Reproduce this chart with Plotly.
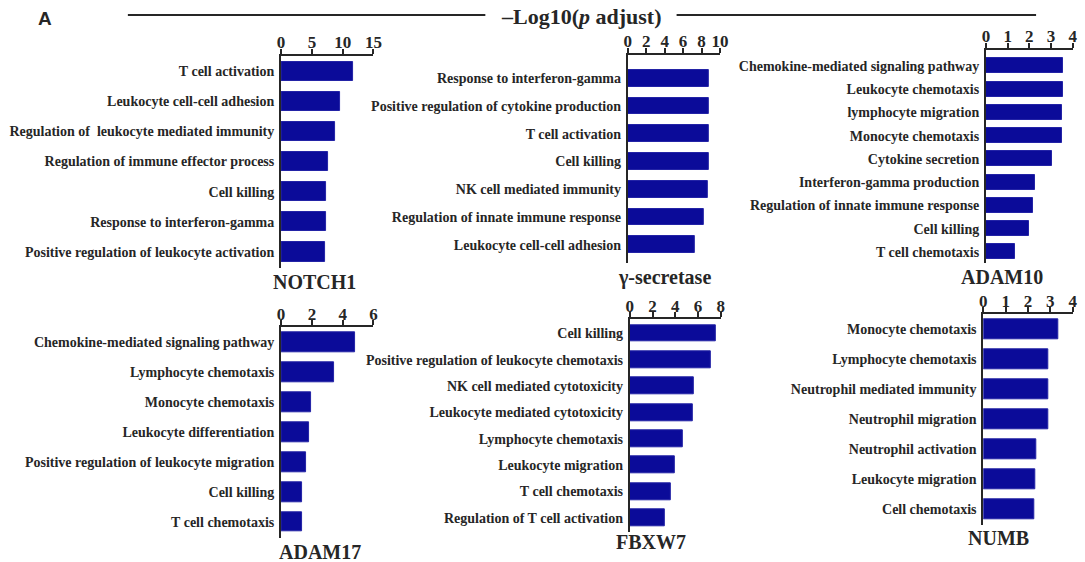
import plotly.graph_objects as go

W, H = 1085, 562

# GO enrichment terms and -log10(adjusted p) per gene
notch1_terms = ["T cell activation", "Leukocyte cell-cell adhesion",
                "Regulation of\u00a0 leukocyte mediated immunity",
                "Regulation of immune effector process", "Cell killing",
                "Response to interferon-gamma",
                "Positive regulation of leukocyte activation"]
notch1_vals = [11.7, 9.6, 8.8, 7.7, 7.3, 7.3, 7.2]

gsec_terms = ["Response to interferon-gamma",
              "Positive regulation of cytokine production",
              "T cell activation", "Cell killing", "NK cell mediated immunity",
              "Regulation of innate immune response",
              "Leukocyte cell-cell adhesion"]
gsec_vals = [8.8, 8.8, 8.75, 8.75, 8.7, 8.3, 7.3]

adam10_terms = ["Chemokine-mediated signaling pathway", "Leukocyte chemotaxis",
                "lymphocyte migration", "Monocyte chemotaxis",
                "Cytokine secretion", "Interferon-gamma production",
                "Regulation of innate immune response", "Cell killing",
                "T cell chemotaxis"]
adam10_vals = [3.57, 3.57, 3.53, 3.53, 3.07, 2.26, 2.17, 1.97, 1.33]

adam17_terms = ["Chemokine-mediated signaling pathway", "Lymphocyte chemotaxis",
                "Monocyte chemotaxis", "Leukocyte differentiation",
                "Positive regulation of leukocyte migration", "Cell killing",
                "T cell chemotaxis"]
adam17_vals = [4.8, 3.44, 1.93, 1.82, 1.62, 1.36, 1.36]

fbxw7_terms = ["Cell killing", "Positive regulation of leukocyte chemotaxis",
               "NK cell mediated cytotoxicity",
               "Leukocyte mediated cytotoxicity", "Lymphocyte chemotaxis",
               "Leukocyte migration", "T cell chemotaxis",
               "Regulation of T cell activation"]
fbxw7_vals = [7.56, 7.12, 5.65, 5.56, 4.68, 3.97, 3.59, 3.09]

numb_terms = ["Monocyte chemotaxis", "Lymphocyte chemotaxis",
              "Neutrophil mediated immunity", "Neutrophil migration",
              "Neutrophil activation", "Leukocyte migration",
              "Cell chemotaxis"]
numb_vals = [3.36, 2.93, 2.91, 2.91, 2.37, 2.33, 2.3]

gene_names = ["NOTCH1", "\u03b3-secretase", "ADAM10", "ADAM17", "FBXW7", "NUMB"]
axis_ticks = [[0, 5, 10, 15], [0, 2, 4, 6, 8, 10], [0, 1, 2, 3, 4],
              [0, 2, 4, 6], [0, 2, 4, 6, 8], [0, 1, 2, 3, 4]]


def hx(px):
    """Horizontal pixel position -> paper fraction (with viewport correction)."""
    return min((px - 4.3) / 0.9867, W) / W


def vy(px):
    """Vertical pixel position (from top) -> paper fraction."""
    return 1 - px / H


# panel layout in pixels: x0, x1, y_top, y_bottom, pad_top, pad_bottom, bar width
panels = [
    (281, 373.3, 56, 268.3, 0.51, 0.55, 0.65),
    (627.3, 719.3, 55, 263.3, 0.84, 0.67, 0.60),
    (985, 1071.5, 50, 263.3, 0.68, 0.49, 0.645),
    (281, 373.3, 327.3, 538.3, 0.50, 0.54, 0.645),
    (629.3, 720, 319.3, 531.7, 0.53, 0.52, 0.64),
    (982.3, 1071.5, 314.3, 525, 0.49, 0.52, 0.665),
]
# panel title centre positions in pixels
title_pos = [(314, 282), (664, 277), (1001, 276.5), (320, 551.5),
             (650, 541.5), (997.5, 538)]

series = [(notch1_terms, notch1_vals), (gsec_terms, gsec_vals),
          (adam10_terms, adam10_vals), (adam17_terms, adam17_vals),
          (fbxw7_terms, fbxw7_vals), (numb_terms, numb_vals)]

SERIF = "Liberation Serif"
TXT = "#262626"
BAR = "#0b0b99"

fig = go.Figure()
layout = {}
annotations = []

for i, ((terms, vals), ticks, geo, name, tp) in enumerate(
        zip(series, axis_ticks, panels, gene_names, title_pos), start=1):
    x0, x1, yt, yb, pt, pb, bw = geo
    sfx = "" if i == 1 else str(i)
    fig.add_trace(go.Bar(
        x=vals, y=terms, orientation="h", width=bw,
        marker=dict(color=BAR, line=dict(color="#2323a6", width=1)),
        xaxis="x" + sfx, yaxis="y" + sfx, showlegend=False,
        hoverinfo="x+y",
    ))
    layout["xaxis" + sfx] = dict(
        domain=[hx(x0), hx(x1)], anchor="y" + sfx, side="top",
        range=[0, ticks[-1]], tickvals=ticks, showgrid=False, zeroline=False,
        showline=True, linecolor=TXT, linewidth=2,
        ticks="outside", ticklen=5, tickwidth=2, tickcolor=TXT,
        ticklabelstandoff=-6,
        tickfont=dict(family=SERIF, size=17, color=TXT, weight="bold"),
        fixedrange=True,
    )
    n = len(terms)
    layout["yaxis" + sfx] = dict(
        domain=[vy(yb), vy(yt)], anchor="x" + sfx,
        type="category", categoryorder="array", categoryarray=terms,
        range=[n - 1 + pb, -pt], showgrid=False, zeroline=False,
        showline=True, linecolor=TXT, linewidth=2, ticks="",
        ticklabelstandoff=2,
        tickfont=dict(family=SERIF, size=14, color=TXT, weight="bold"),
        fixedrange=True,
    )
    annotations.append(dict(
        x=hx(tp[0]), y=vy(tp[1]), xref="paper", yref="paper",
        text=name, showarrow=False, xanchor="center", yanchor="middle",
        font=dict(family=SERIF, size=20, color=TXT, weight="bold"),
    ))

# figure header: panel letter and shared axis title
annotations.append(dict(
    x=hx(45), y=vy(18), xref="paper", yref="paper", text="<b>A</b>",
    showarrow=False, xanchor="center", yanchor="middle",
    font=dict(family="Liberation Sans", size=19, color=TXT),
))
annotations.append(dict(
    x=hx(581), y=vy(16), xref="paper", yref="paper",
    text="\u2013Log10(<i>p</i> adjust)", showarrow=False,
    xanchor="center", yanchor="middle",
    font=dict(family=SERIF, size=22, color=TXT, weight="bold"),
))

shapes = [
    dict(type="line", xref="paper", yref="paper", x0=hx(128), x1=hx(485),
         y0=vy(15), y1=vy(15), line=dict(color=TXT, width=2)),
    dict(type="line", xref="paper", yref="paper", x0=hx(676), x1=hx(1035),
         y0=vy(15), y1=vy(15), line=dict(color=TXT, width=2)),
]

fig.update_layout(
    width=W, height=H, margin=dict(l=0, r=0, t=0, b=0),
    paper_bgcolor="white", plot_bgcolor="white",
    annotations=annotations, shapes=shapes, bargap=0,
    **layout,
)

fig.write_html("out.html", config={"displayModeBar": False})
